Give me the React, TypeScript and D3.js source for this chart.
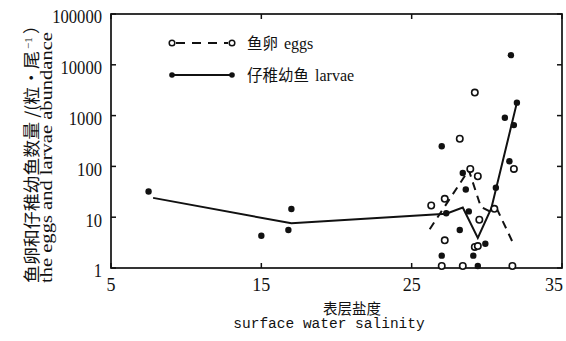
import React from "react";
import * as d3 from "d3";

// salinity / abundance
const larvaeLineSal = [7.8, 17.0, 27.3, 28.4, 29.4, 30.3, 32.0];
const larvaeLineVal = [24, 7.6, 11.7, 15.5, 3.9, 15, 1800];

const eggsLineSal = [26.2, 28.8, 29.6, 30.2, 30.7, 31.7];
const eggsLineVal = [5.8, 85, 16, 13, 14, 3.3];

const larvaeSal = [7.5, 15.0, 16.8, 17.0, 27.0, 28.4, 28.6, 27.3, 28.8, 28.2, 29.9, 27.0, 29.1, 29.4, 30.6, 31.5, 31.6, 32.0, 31.2, 31.8];
const larvaeVal = [32, 4.3, 5.6, 14.5, 250, 74, 35, 12, 13, 5.6, 3.0, 1.75, 1.75, 1, 38, 126, 15500, 1800, 910, 650];

const eggsSal = [28.2, 29.2, 28.9, 29.4, 26.3, 27.2, 29.5, 27.2, 29.2, 29.4, 27.0, 28.4, 31.7, 30.5, 31.8];
const eggsVal = [350, 2840, 89, 64, 17, 23, 8.9, 3.5, 2.6, 2.7, 1, 1, 1, 14.6, 89];

const xTicks = [5, 15, 25, 35];
const yTicks = [1, 10, 100, 1000, 10000, 100000];

const serif = "'Liberation Serif', 'DejaVu Serif', serif";
const cjk = "'Noto Sans CJK SC', sans-serif";
const mono = "'Liberation Mono', 'DejaVu Sans Mono', monospace";

const App = () => {
    const width = 566;
    const height = 341;
    const left = 111, right = 562, top = 14, bottom = 268;

    const xScale = d3.scaleLinear().domain([5, 35]).range([left, right]);
    const yScale = d3.scaleLog().domain([1, 100000]).range([bottom, top]);

    const line = d3.line<[number, number]>()
        .x(d => xScale(d[0]))
        .y(d => yScale(d[1]));

    const larvaeLine = larvaeLineSal.map((s, i) => [s, larvaeLineVal[i]] as [number, number]);
    const eggsLine = eggsLineSal.map((s, i) => [s, eggsLineVal[i]] as [number, number]);

    const ink = "#111";

    return (
        <div style={{position: "fixed", left: 0, top: 0}}>
            <svg width={width} height={height} style={{display: "block", background: "#fff"}}>
                {/* frame */}
                <rect x={left} y={top} width={right - left} height={bottom - top}
                      fill="none" stroke={ink} strokeWidth={1.7}/>

                {/* inward ticks */}
                {xTicks.map(t => (
                    <g key={"xt" + t}>
                        <line x1={xScale(t)} x2={xScale(t)} y1={bottom} y2={bottom - 5} stroke={ink} strokeWidth={1.5}/>
                        <line x1={xScale(t)} x2={xScale(t)} y1={top} y2={top + 5} stroke={ink} strokeWidth={1.5}/>
                        <text x={Math.min(xScale(t), 554)} y={291} textAnchor="middle" fontFamily={serif}
                              fontSize={18} fill={ink}>{t}</text>
                    </g>
                ))}
                {yTicks.map(t => (
                    <g key={"yt" + t}>
                        <line x1={left} x2={left + 5} y1={yScale(t)} y2={yScale(t)} stroke={ink} strokeWidth={1.5}/>
                        <line x1={right} x2={right - 5} y1={yScale(t)} y2={yScale(t)} stroke={ink} strokeWidth={1.5}/>
                        <text x={102} y={yScale(t) + 3} dy="0.35em" textAnchor="end" fontFamily={serif}
                              fontSize={18} fill={ink}
                              textLength={String(t).length * 8.3} lengthAdjust="spacingAndGlyphs">{t}</text>
                    </g>
                ))}

                {/* lines */}
                <path d={line(eggsLine) || ""} fill="none" stroke={ink} strokeWidth={2}
                      strokeDasharray="8,6"/>
                <path d={line(larvaeLine) || ""} fill="none" stroke={ink} strokeWidth={2}/>

                {/* points */}
                {eggsSal.map((s, i) => (
                    <circle key={"e" + i} cx={xScale(s)} cy={yScale(eggsVal[i]) - (eggsVal[i] === 1 ? 2 : 0)} r={3.2}
                            fill="#fff" stroke={ink} strokeWidth={1.6}/>
                ))}
                {larvaeSal.map((s, i) => (
                    <circle key={"l" + i} cx={xScale(s)} cy={yScale(larvaeVal[i]) - (larvaeVal[i] === 1 ? 2 : 0)} r={3.2}
                            fill={ink}/>
                ))}

                {/* legend */}
                <g>
                    <line x1={176} x2={228} y1={43} y2={43} stroke={ink} strokeWidth={2} strokeDasharray="9,7"/>
                    <circle cx={172} cy={43} r={2.8} fill="#fff" stroke={ink} strokeWidth={1.5}/>
                    <circle cx={232} cy={43} r={2.8} fill="#fff" stroke={ink} strokeWidth={1.5}/>
                    <text x={247} y={49} fill={ink}>
                        <tspan fontFamily={cjk} fontSize={15.5}>鱼卵</tspan>
                        <tspan fontFamily={serif} fontSize={16} dx={6}>eggs</tspan>
                    </text>

                    <line x1={172} x2={232} y1={75} y2={75} stroke={ink} strokeWidth={2}/>
                    <circle cx={172} cy={75} r={2.8} fill={ink}/>
                    <circle cx={232} cy={75} r={2.8} fill={ink}/>
                    <text x={247} y={81} fill={ink}>
                        <tspan fontFamily={cjk} fontSize={15.5}>仔稚幼鱼</tspan>
                        <tspan fontFamily={serif} fontSize={16} dx={6}>larvae</tspan>
                    </text>
                </g>

                {/* y title */}
                <g transform="translate(38,0) rotate(-90)">
                    <text x={-283} y={0} fontFamily={cjk} fontSize={17} fill={ink}
                          textLength={232} lengthAdjust="spacingAndGlyphs">鱼卵和仔稚幼鱼数量 /(粒·尾</text>
                    <text x={-49} y={-6} fontFamily={serif} fontSize={11} fill={ink}>−1</text>
                    <text x={-34} y={0} fontFamily={cjk} fontSize={17} fill={ink}>）</text>
                </g>
                <g transform="translate(52,0) rotate(-90)">
                    <text x={-283} y={0} fontFamily={serif} fontSize={17} fill={ink}
                          textLength={251} lengthAdjust="spacingAndGlyphs">the eggs and larvae abundance</text>
                </g>

                {/* x title */}
                <text x={352} y={314} textAnchor="middle" fontFamily={cjk} fontSize={14.5} fill={ink}>表层盐度</text>
                <text x={329} y={328} textAnchor="middle" fontFamily={mono} fontSize={14.5} fill={ink}>surface water salinity</text>
            </svg>
        </div>
    );
};

export default App;
